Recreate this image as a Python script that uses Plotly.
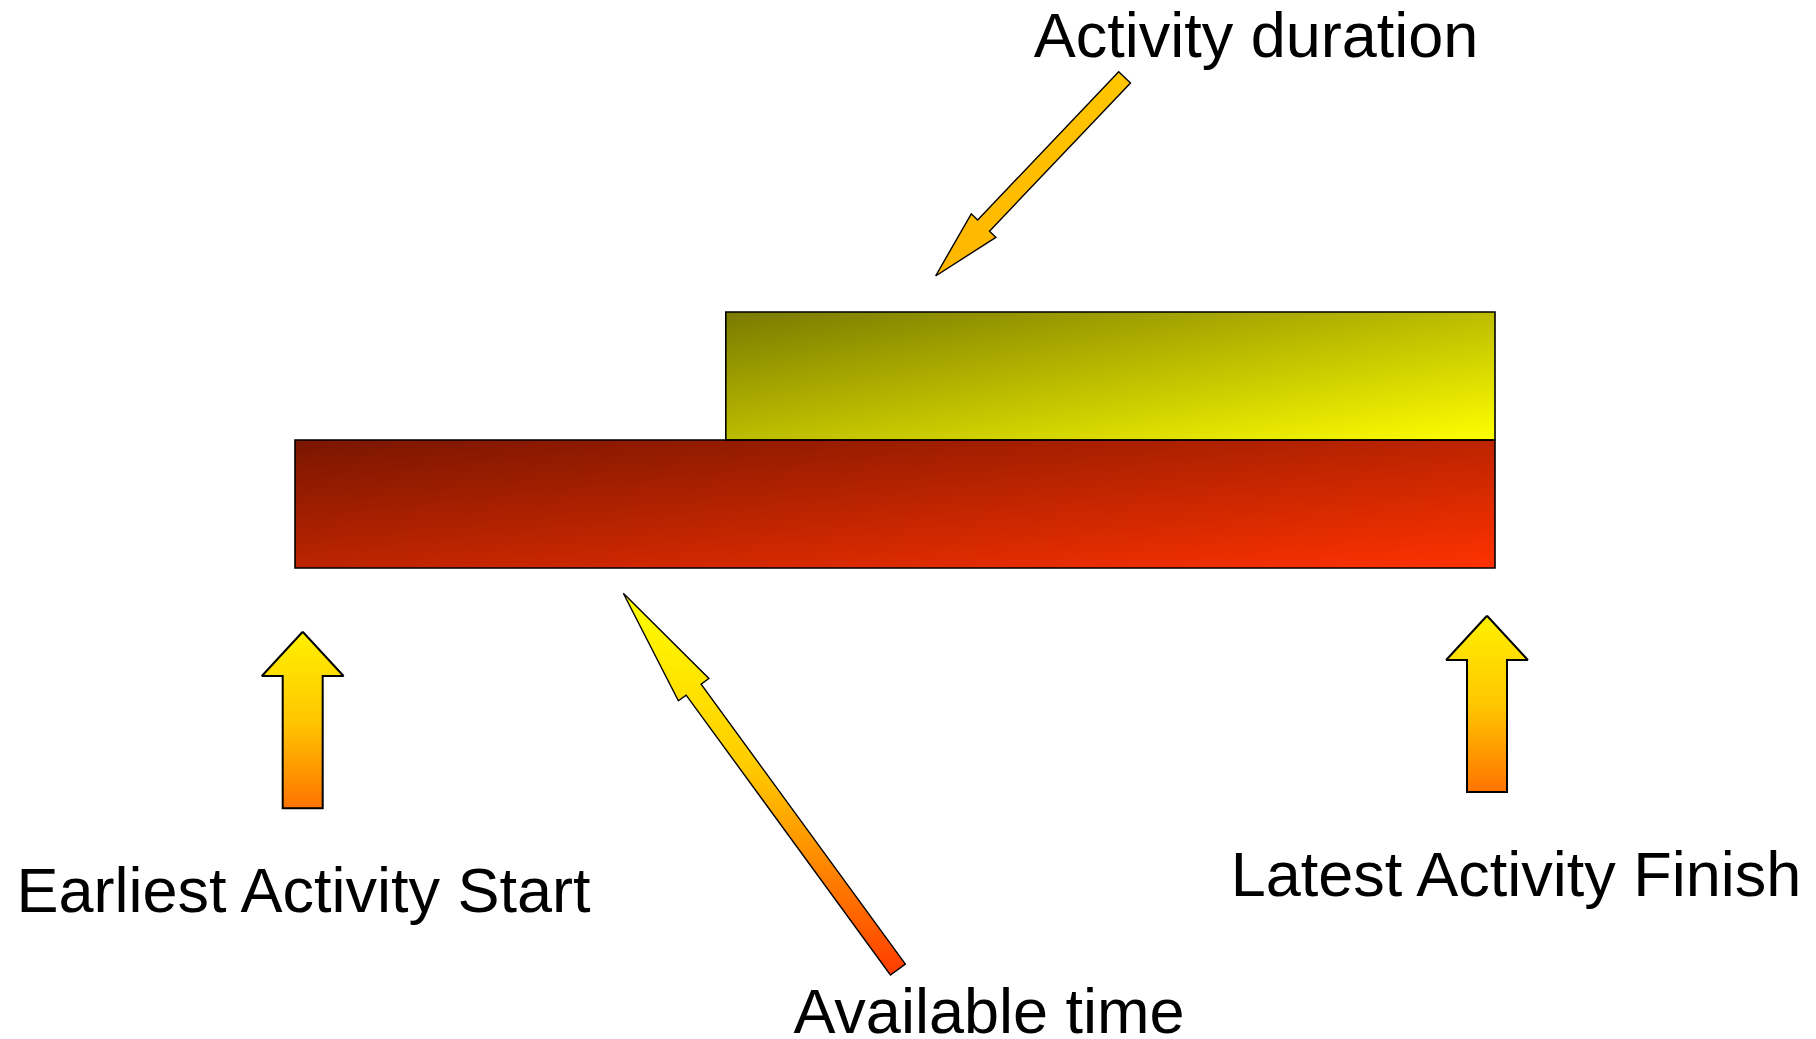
import numpy as np
import plotly.graph_objects as go

# ---- schedule values (time axis in weeks, one row per bar) ----
bar_labels = ["Available time", "Activity duration"]
bar_start = [0.0, 7.18]
bar_finish = [20.0, 20.0]
bar_row = [0, 1]

label_texts = ["Activity duration", "Earliest Activity Start",
               "Available time", "Latest Activity Finish"]

# ---- canvas / axis mapping ----
W, H = 1816, 1039
ORIGIN_X, PX_PER_WEEK = 295.0, 60.0
ROW0_Y, PX_PER_ROW = 504.0, 128.0

x_range = [(0 - ORIGIN_X) / PX_PER_WEEK, (W - ORIGIN_X) / PX_PER_WEEK]
y_range = [(ROW0_Y - H) / PX_PER_ROW, (ROW0_Y - 0) / PX_PER_ROW]


def to_data(px, py):
    """Canvas pixel position -> axis coordinates."""
    return (px - ORIGIN_X) / PX_PER_WEEK, (ROW0_Y - py) / PX_PER_ROW


# bar fills: diagonal gradient, dark at top-left to full colour at bottom-right
bar_gradients = [
    [[0, "rgb(122,22,0)"], [1, "rgb(255,50,0)"]],
    [[0, "rgb(122,122,0)"], [1, "rgb(255,255,0)"]],
]

fig = go.Figure()

for s, f, r, cs in zip(bar_start, bar_finish, bar_row, bar_gradients):
    nx, ny = 160, 32
    xe = np.linspace(s, f, nx + 1)
    ye = np.linspace(r - 0.5, r + 0.5, ny + 1)
    xc = (xe[:-1] + xe[1:]) / 2
    yc = (ye[:-1] + ye[1:]) / 2
    u = (xc - s) / (f - s)
    v = (r + 0.5 - yc)
    z = 0.5 * u[None, :] + 0.5 * v[:, None]
    fig.add_trace(go.Heatmap(
        x=xe, y=ye, z=z, colorscale=cs, zmin=0, zmax=1,
        zsmooth="best", showscale=False, hoverinfo="skip",
    ))
    fig.add_shape(type="rect", xref="x", yref="y",
                  x0=s, x1=f, y0=r - 0.5, y1=r + 0.5,
                  line=dict(color="black", width=1.6),
                  fillcolor="rgba(0,0,0,0)", layer="above")


def arrow_polygon(tip, tail, shaft_w, head_w, head_len):
    tip = np.array(tip, float)
    tail = np.array(tail, float)
    d = tail - tip
    u = d / np.hypot(*d)
    n = np.array([-u[1], u[0]])
    base = tip + u * head_len
    pts = [
        tip,
        base + n * head_w / 2,
        base + n * shaft_w / 2,
        tail + n * shaft_w / 2,
        tail - n * shaft_w / 2,
        base - n * shaft_w / 2,
        base - n * head_w / 2,
        tip,
    ]
    xs, ys = zip(*[to_data(p[0], p[1]) for p in pts])
    return list(xs), list(ys)


# callout arrows (canvas pixels): tip, tail, shaft width, head width, head length
callouts = [
    dict(tip=(935.6, 276.0), tail=(1124.6, 77.4), shaft=16.3, head=34.0, hlen=69.6,
         colors=[[0, "#ffc600"], [1, "#ffb600"]], lw=1.4),
    dict(tip=(302.7, 631.7), tail=(302.7, 808.3), shaft=40.0, head=81.7, hlen=44.3,
         colors=[[0, "#fff000"], [0.5, "#ffc800"], [1, "#ff7400"]], lw=2.0),
    dict(tip=(623.3, 593.3), tail=(897.9, 969.5), shaft=18.5, head=37.8, hlen=119.3,
         colors=[[0, "#ffff00"], [0.45, "#ffcc00"], [1, "#ff3c00"]], lw=1.4),
    dict(tip=(1487.0, 615.7), tail=(1487.0, 792.0), shaft=40.0, head=81.7, hlen=44.3,
         colors=[[0, "#fff000"], [0.5, "#ffc800"], [1, "#ff7400"]], lw=2.0),
]

for c in callouts:
    xs, ys = arrow_polygon(c["tip"], c["tail"], c["shaft"], c["head"], c["hlen"])
    fig.add_trace(go.Scatter(
        x=xs, y=ys, mode="lines", fill="toself",
        line=dict(color="black", width=c["lw"]),
        fillgradient=dict(type="vertical", colorscale=c["colors"],
                          start=max(ys), stop=min(ys)),
        hoverinfo="skip", showlegend=False,
    ))

# label anchor points (canvas pixels)
label_pos = [(1256.0, 41.5), (303.5, 896.0), (989.0, 1017.0), (1516.0, 880.5)]
lx, ly = zip(*[to_data(px, py) for px, py in label_pos])
fig.add_trace(go.Scatter(
    x=list(lx), y=list(ly), mode="text", text=label_texts,
    textposition="middle center",
    textfont=dict(family="Liberation Sans, Arial, sans-serif", size=63, color="black"),
    hoverinfo="skip", showlegend=False, cliponaxis=False,
))

fig.update_layout(
    width=W, height=H,
    margin=dict(l=0, r=0, t=0, b=0),
    paper_bgcolor="white", plot_bgcolor="white",
    xaxis=dict(visible=False, range=x_range, fixedrange=True),
    yaxis=dict(visible=False, range=y_range, fixedrange=True),
    showlegend=False, hovermode=False,
)

fig.write_html("out.html", config={"displayModeBar": False})
